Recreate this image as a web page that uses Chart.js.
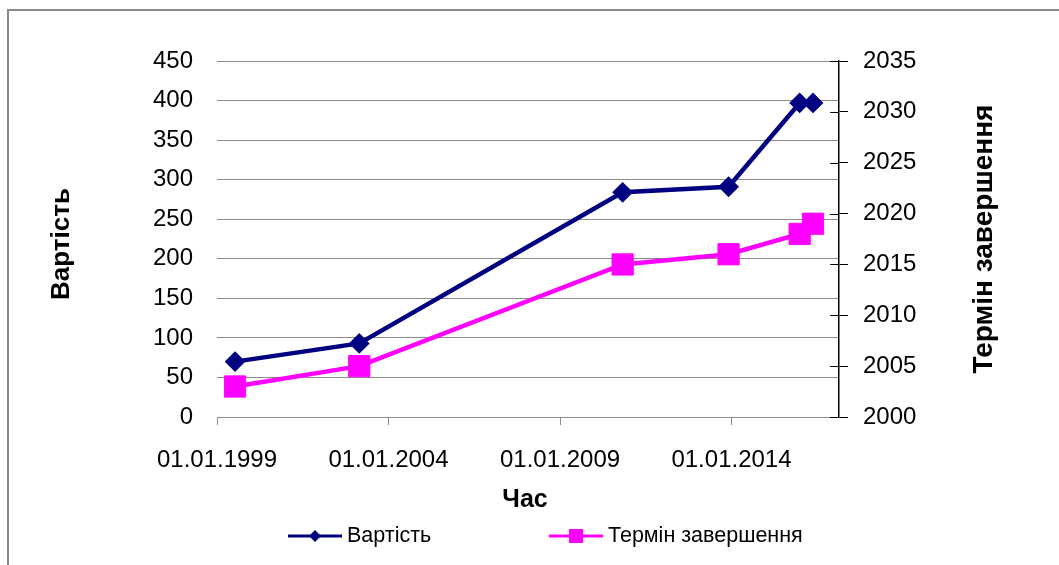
<!DOCTYPE html>
<html>
<head>
<meta charset="utf-8">
<script src="https://cdn.jsdelivr.net/npm/chart.js@4.4.1/dist/chart.umd.min.js"></script>
<style>
  html, body { margin: 0; padding: 0; background: #fff; }
  #wrap { width: 1059px; height: 565px; }
</style>
</head>
<body>
<div id="wrap"><canvas id="chart" width="1059" height="565"></canvas></div>
<script>
// data
const dates = ['1999-07-12', '2003-02-24', '2010-10-30', '2013-12-01', '2015-12-28', '2016-05-18'];
const costValues = [70, 93, 284, 291, 397, 397];
const finishYears = [2003, 2005, 2015, 2016, 2018, 2019];
const xTickLabels = ['01.01.1999', '01.01.2004', '01.01.2009', '01.01.2014'];
const xAxisEnd = '2017-02-19';
const seriesNames = ['Вартість', 'Термін завершення'];

const FONT = "'Liberation Sans', Arial, sans-serif";
const NAVY = '#000080';
const MAGENTA = '#ff00ff';
const GRID = '#8c8c8c';

function parseIso(s) {
    let p = s.split('-');
    return Date.UTC(+p[0], +p[1] - 1, +p[2]);
}
function parseDotted(s) {
    let p = s.split('.');
    return Date.UTC(+p[2], +p[1] - 1, +p[0]);
}
function fmtDate(v) {
    let d = new Date(v);
    let dd = String(d.getUTCDate()).padStart(2, '0');
    let mm = String(d.getUTCMonth() + 1).padStart(2, '0');
    return dd + '.' + mm + '.' + d.getUTCFullYear();
}

/** small helpers for the legend markers **/
function diamond(ctx, x, y, r) {
    ctx.beginPath();
    ctx.moveTo(x - r, y);
    ctx.lineTo(x, y - r);
    ctx.lineTo(x + r, y);
    ctx.lineTo(x, y + r);
    ctx.closePath();
    ctx.fill();
}
function legendItem(ctx, x, y, color, marker, label) {
    ctx.strokeStyle = color;
    ctx.fillStyle = color;
    ctx.lineWidth = 3;
    ctx.beginPath();
    ctx.moveTo(x, y);
    ctx.lineTo(x + 54, y);
    ctx.stroke();
    if (marker == 'diamond') diamond(ctx, x + 27, y, 6);
    else ctx.fillRect(x + 27 - 7, y - 7, 14, 14);
    ctx.fillStyle = '#000';
    ctx.font = '21.5px ' + FONT;
    ctx.textAlign = 'left';
    ctx.textBaseline = 'middle';
    ctx.fillText(label, x + 59, y);
}
function rotatedText(ctx, text, x, y, font) {
    ctx.save();
    ctx.translate(x, y);
    ctx.rotate(-Math.PI / 2);
    ctx.font = font;
    ctx.fillStyle = '#000';
    ctx.textAlign = 'center';
    ctx.textBaseline = 'middle';
    ctx.fillText(text, 0, 0);
    ctx.restore();
}

const decor = {
    id: 'decor',
    beforeDraw(chart) {
        let ctx = chart.ctx;
        ctx.save();
        ctx.fillStyle = '#fff';
        ctx.fillRect(0, 0, chart.width, chart.height);
        ctx.strokeStyle = '#8a8a8a';
        ctx.lineWidth = 2;
        ctx.strokeRect(8, 10, chart.width + 20, chart.height + 20);
        ctx.restore();
    },
    afterDraw(chart) {
        let ctx = chart.ctx;
        ctx.save();
        // inner half of the secondary axis tick marks
        let r = chart.scales.y1;
        ctx.strokeStyle = '#000';
        ctx.lineWidth = 1;
        r.ticks.forEach(t => {
            let py = Math.round(r.getPixelForValue(t.value)) + 0.5;
            ctx.beginPath();
            ctx.moveTo(r.left, py);
            ctx.lineTo(r.left - 9, py);
            ctx.stroke();
        });
        // axis titles
        rotatedText(ctx, seriesNames[0], 62, 244, 'bold 26px ' + FONT);
        rotatedText(ctx, seriesNames[1], 984, 239, 'bold 28px ' + FONT);
        ctx.font = 'bold 25px ' + FONT;
        ctx.fillStyle = '#000';
        ctx.textAlign = 'center';
        ctx.textBaseline = 'middle';
        ctx.fillText('Час', 525, 500);
        // legend
        legendItem(ctx, 288, 536, NAVY, 'diamond', seriesNames[0]);
        legendItem(ctx, 549, 536, MAGENTA, 'square', seriesNames[1]);
        ctx.restore();
    }
};

function init() {
    let ctx = document.getElementById('chart').getContext('2d');
    let xs = dates.map(parseIso);
    let chartData = {
        datasets: [{
            label: seriesNames[0],
            data: xs.map((x, i) => ({x: x, y: costValues[i]})),
            yAxisID: 'y',
            borderColor: NAVY,
            backgroundColor: NAVY,
            borderWidth: 4.5,
            pointStyle: 'rectRot',
            pointRadius: 9,
            pointBorderWidth: 2,
            tension: 0
        }, {
            label: seriesNames[1],
            data: xs.map((x, i) => ({x: x, y: finishYears[i]})),
            yAxisID: 'y1',
            borderColor: MAGENTA,
            backgroundColor: MAGENTA,
            borderWidth: 4.5,
            pointStyle: 'rect',
            pointRadius: 15,
            pointBorderWidth: 1,
            tension: 0
        }]
    };
    let chartOptions = {
        responsive: false,
        animation: false,
        layout: {padding: {top: 61, left: 0, right: 0, bottom: 0}},
        plugins: {legend: {display: false}, tooltip: {enabled: false}},
        scales: {
            x: {
                type: 'linear',
                min: parseDotted(xTickLabels[0]),
                max: parseIso(xAxisEnd),
                afterBuildTicks: s => { s.ticks = xTickLabels.map(l => ({value: parseDotted(l)})); },
                afterFit: s => { s.height = 148; },
                ticks: {
                    callback: v => fmtDate(v),
                    autoSkip: false,
                    maxRotation: 0,
                    padding: 21,
                    color: '#000',
                    font: {family: FONT, size: 24}
                },
                grid: {drawOnChartArea: false, tickLength: 8, color: GRID},
                border: {color: GRID, width: 1}
            },
            y: {
                position: 'left',
                min: 0,
                max: 450,
                afterFit: s => { s.width = 217; },
                ticks: {
                    stepSize: 50,
                    callback: v => v,
                    padding: 24,
                    color: '#000',
                    font: {family: FONT, size: 24}
                },
                grid: {color: GRID, drawTicks: false},
                border: {display: false}
            },
            y1: {
                position: 'right',
                min: 2000,
                max: 2035,
                afterFit: s => { s.width = 220; },
                ticks: {
                    stepSize: 5,
                    callback: v => String(v),
                    padding: 15,
                    color: '#000',
                    font: {family: FONT, size: 24}
                },
                grid: {drawOnChartArea: false, tickLength: 9, color: '#000'},
                border: {color: '#000', width: 1.5}
            }
        }
    };
    new Chart(ctx, {type: 'line', data: chartData, options: chartOptions, plugins: [decor]});
}
init();
</script>
</body>
</html>
